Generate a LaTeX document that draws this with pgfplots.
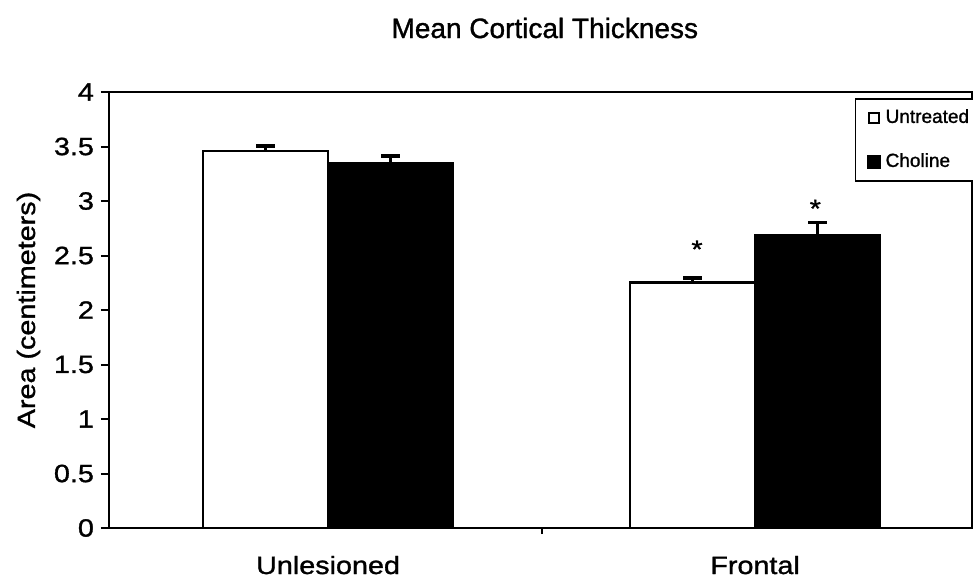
\documentclass[border=0pt]{standalone}
\usepackage{fontspec}
\setmainfont{Liberation Sans}[FakeStretch=1.15, FakeBold=1.2]
\newfontfamily\plainfont{Liberation Sans}[FakeBold=1.2]
\usepackage{pgfplots}
\pgfplotsset{compat=1.18}
\begin{document}
\begin{tikzpicture}
\path[use as bounding box] (-54.5pt,-28.5pt) rectangle (432pt,264pt);
\clip (-54.5pt,-28.5pt) rectangle (432pt,264pt);
\begin{axis}[
  at={(0pt,0pt)}, anchor=south west,
  scale only axis, width=431.5pt, height=218pt,
  ybar, bar width=0.293,
  xmin=-0.513, xmax=1.508, ymin=0, ymax=4,
  ytick={0,0.5,1,1.5,2,2.5,3,3.5,4},
  yticklabels={0,0.5,1,1.5,2,2.5,3,3.5,4},
  xtick={0,1}, xticklabels={Unlesioned,Frontal},
  minor xtick={0.5},
  tick align=outside, xtick pos=bottom, ytick pos=left,
  major tick length=4pt, minor tick length=3pt,
  major x tick style={draw=none},
  tick style={line width=1pt, black},
  axis line style={line width=1.4pt},
  /pgf/number format/assume math mode=true,
  tick label style={font=\fontsize{12.5}{14}\selectfont},
  xticklabel style={anchor=base, yshift=-19pt},
  title={Mean Cortical Thickness},
  every axis title/.style={at={(0.505,1)}, anchor=base, yshift=27pt, font=\plainfont\fontsize{14}{16}\selectfont},
  ylabel={Area (centimeters)},
  every axis y label/.style={at={([xshift=-37pt]axis description cs:0,0.5)}, rotate=90, anchor=base, font=\fontsize{12.5}{14}\selectfont},
  legend style={at={(0.864,0.986)}, anchor=north west, draw=black, line width=0.8pt,
    font=\plainfont\fontsize{9.5}{11}\selectfont, inner xsep=6pt, inner ysep=5pt, row sep=13pt,
    nodes={inner sep=0pt, text height=7pt, text depth=2pt},
    /tikz/every odd column/.style={column sep=2.5pt}},
  legend cell align=left,
]
\addplot[bar shift=-0.1465, fill=white, draw=black, line width=1.2pt,
  legend image code/.code={\draw[fill=white, draw=black, line width=1.2pt] (0.6pt,-2.4pt) rectangle (5.4pt,2.4pt);},
  error bars/.cd, y dir=plus, y explicit,
  error bar style={line width=1.2pt},
  error mark options={rotate=90, mark size=4.75pt, line width=1.8pt}]
  coordinates {(0,3.461) +- (0,0.046) (1,2.251) +- (0,0.043)};
\addlegendentry{Untreated}
\addplot[bar shift=0.1465, fill=black, draw=black, line width=1.2pt,
  legend image code/.code={\draw[fill=black, draw=black, line width=0.6pt] (0pt,-3pt) rectangle (6pt,3pt);},
  error bars/.cd, y dir=plus, y explicit,
  error bar style={line width=1.2pt},
  error mark options={rotate=90, mark size=4.75pt, line width=1.8pt}]
  coordinates {(0,3.346) +- (0,0.067) (1,2.682) +- (0,0.119)};
\addlegendentry{Choline}
\addplot[forget plot, bar shift=0, draw=none, fill=none,
  nodes near coords={*},
  every node near coord/.style={anchor=base, inner sep=0pt, font=\fontsize{12.5}{14}\selectfont}]
  coordinates {(0.864,2.479) (1.141,2.853)};
\end{axis}
\end{tikzpicture}
\end{document}
